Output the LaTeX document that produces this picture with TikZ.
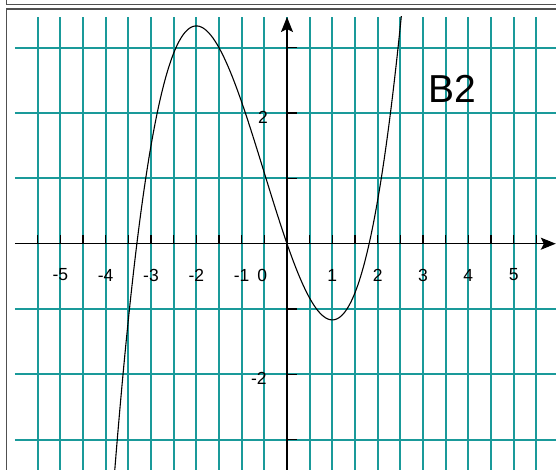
\documentclass[tikz,border=0pt]{standalone}
\usepackage{fontspec}
\setmainfont{Liberation Sans}
\usetikzlibrary{arrows.meta}
\definecolor{gridteal}{HTML}{1A9A9A}
\definecolor{framegray}{HTML}{505050}

\begin{document}
\begin{tikzpicture}[
  x=45.333pt,y=65.333pt,
  gridline/.style={draw=gridteal,line width=1.8pt},
  axis/.style={-{Stealth[length=15pt,width=12pt,inset=3pt]},line width=1.4pt},
  tickmark/.style={line width=1.2pt},
  curve/.style={line width=1.1pt},
  ticklabel/.style={font=\fontsize{17.5}{19}\selectfont,inner sep=0pt},
  frame/.style={draw=framegray,line width=1.5pt}
]
\useasboundingbox (-287pt,-226.3pt) rectangle (269pt,243.7pt);

% window frame
\draw[frame] (-280.5pt,243.7pt) -- (-280.5pt,239.3pt) -- (269pt,239.3pt);
\draw[frame] (-280.5pt,-226.3pt) -- (-280.5pt,234.5pt) -- (269pt,234.5pt);

% grid
\foreach \i in {-5.5,-5,...,5.5}
  \draw[gridline] (\i,-3.6) -- (\i,3.47);
\foreach \j in {-3,-2,-1,1,2,3}
  \draw[gridline] (-6,\j) -- (6,\j);

% axes
\coordinate (xstart) at (-6,0);
\coordinate (xend) at (5.93,0);
\coordinate (ystart) at (0,-3.6);
\coordinate (yend) at (0,3.47);
\draw[axis] (xstart) -- (xend);
\draw[axis] (ystart) -- (yend);

\foreach \i in {-5.5,-5,...,5.5}
  \draw[tickmark] (\i,0) -- (\i,0.14);
\foreach \j in {-3,-2,-1,1,2,3}
  \draw[tickmark] (0,\j) -- (0.22,\j);

% the cubic
\begin{scope}
  \clip (-6,-3.47) rectangle (6,3.47);
  \draw[curve] plot[domain=-3.9:2.6,samples=150,smooth]
    (\x,{\x*\x*\x/3+\x*\x/2-2*\x});
\end{scope}

\node[ticklabel] (xlabm5) at (-5,-0.48) {-5};
\node[ticklabel] (xlabm4) at (-4,-0.48) {-4};
\node[ticklabel] (xlabm3) at (-3,-0.48) {-3};
\node[ticklabel] (xlabm2) at (-2,-0.48) {-2};
\node[ticklabel] (xlabm1) at (-1,-0.48) {-1};
\node[ticklabel] (xlabzero) at (-0.545,-0.48) {0};
\node[ticklabel] (xlab1) at (1,-0.48) {1};
\node[ticklabel] (xlab2) at (2,-0.48) {2};
\node[ticklabel] (xlab3) at (3,-0.48) {3};
\node[ticklabel] (xlab4) at (4,-0.48) {4};
\node[ticklabel] (xlab5) at (5,-0.48) {5};
\node[ticklabel] (ylab2) at (-0.53,1.94) {2};
\node[ticklabel] (ylabm2) at (-0.62,-2.06) {-2};

\node[font=\fontsize{39}{40}\selectfont,inner sep=0pt] (title) at (3.64,2.37) {B2};
\end{tikzpicture}
\end{document}
